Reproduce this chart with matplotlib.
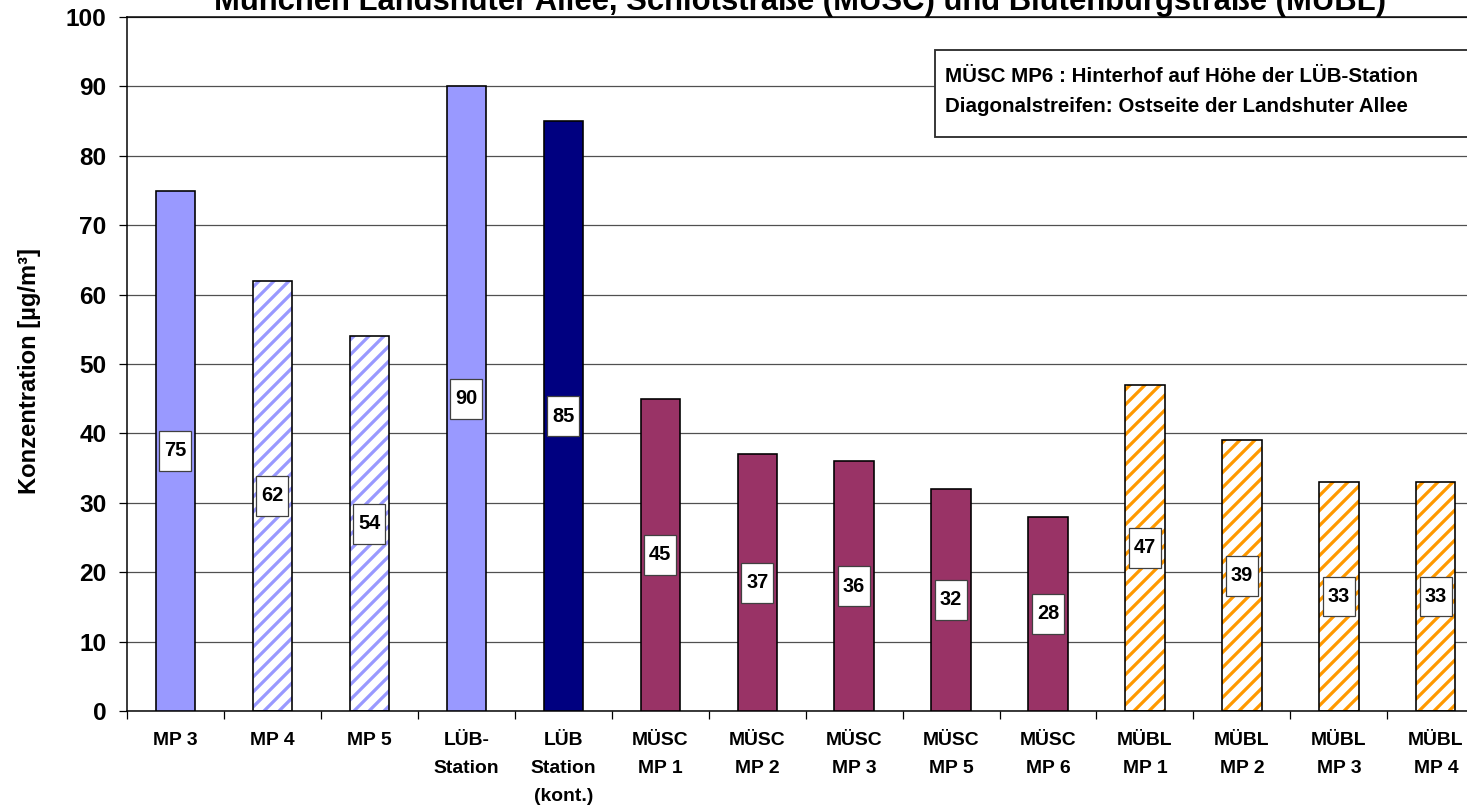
import matplotlib
matplotlib.use("Agg")
import matplotlib.pyplot as plt
from matplotlib.patches import Rectangle

plt.rcParams['font.family'] = ['Liberation Sans', 'DejaVu Sans']
plt.rcParams['font.weight'] = 'bold'
plt.rcParams['hatch.linewidth'] = 2.6

# Messstellen und Mittelwerte
categories = ["MP 3", "MP 4", "MP 5", "LÜB-\nStation", "LÜB\nStation\n(kont.)",
              "MÜSC\nMP 1", "MÜSC\nMP 2", "MÜSC\nMP 3", "MÜSC\nMP 5", "MÜSC\nMP 6",
              "MÜBL\nMP 1", "MÜBL\nMP 2", "MÜBL\nMP 3", "MÜBL\nMP 4"]
values = [75, 62, 54, 90, 85, 45, 37, 36, 32, 28, 47, 39, 33, 33]
bar_colors = ["#9999FF", "#9999FF", "#9999FF", "#9999FF", "#000080",
              "#993366", "#993366", "#993366", "#993366", "#993366",
              "#FF9900", "#FF9900", "#FF9900", "#FF9900"]
# Diagonalstreifen = Ostseite der Landshuter Allee
east_side = [False, True, True, False, False,
             False, False, False, False, False,
             True, True, True, True]

title = "München Landshuter Allee, Schlotstraße (MÜSC) und Blutenburgstraße (MÜBL)"
ylabel = "Konzentration [µg/m³]"
note_lines = ["MÜSC MP6 : Hinterhof auf Höhe der LÜB-Station",
              "Diagonalstreifen: Ostseite der Landshuter Allee"]

DPI = 90
fig = plt.figure(figsize=(1467 / DPI, 805 / DPI), dpi=DPI)
ax = fig.add_axes([127 / 1467, 94 / 805, 1357.3 / 1467, 694 / 805])

x = list(range(len(values)))
bar_w = 0.405
for xi, v, c, striped in zip(x, values, bar_colors, east_side):
    if striped:
        ax.bar(xi, v, width=bar_w, color="white", edgecolor=c, hatch="//",
               linewidth=0, zorder=2)
        ax.bar(xi, v, width=bar_w, fill=False, edgecolor="black",
               linewidth=1.3, zorder=3)
    else:
        ax.bar(xi, v, width=bar_w, color=c, edgecolor="black",
               linewidth=1.3, zorder=3)

# Wertebeschriftung in der Balkenmitte
box_w, box_h = 0.33, 5.76
for xi, v in zip(x, values):
    ax.add_patch(Rectangle((xi - box_w / 2, v / 2 - box_h / 2), box_w, box_h,
                           facecolor="white", edgecolor="#404040",
                           linewidth=1.0, zorder=4))
    ax.text(xi, v / 2, f"{v:d}", ha="center", va="center",
            fontsize=16, fontweight="bold", zorder=5)

ax.set_xlim(-0.5, len(values) - 0.5)
ax.set_ylim(0, 100)
ax.set_yticks(range(0, 101, 10))
ax.yaxis.grid(True, color="#505050", linewidth=1.0)
ax.set_axisbelow(True)

ax.set_xticks(x)
ax.set_xticklabels(categories, fontsize=15.5, fontweight="bold", linespacing=1.85)
ax.set_xticks([i + 0.5 for i in range(-1, len(values))], minor=True)
ax.tick_params(axis="x", which="major", length=0, pad=17.0)
ax.tick_params(axis="x", which="minor", length=6, width=1, direction="out")
ax.tick_params(axis="y", labelsize=19.5, length=6.4, width=1, pad=10.0)
for lbl in ax.get_yticklabels():
    lbl.set_fontweight("bold")

ax.set_ylabel(ylabel, fontsize=19, fontweight="bold")
ax.yaxis.set_label_coords(-0.063, 0.49)

for side in ("left", "bottom", "top"):
    ax.spines[side].set_color("black")
    ax.spines[side].set_linewidth(1.2)
ax.spines["right"].set_visible(False)

fig.text(0.545, 1 - 10 / 805, title, ha="center", va="baseline",
         fontsize=24.8, fontweight="bold")

# Hinweisbox oben rechts
fig.add_artist(Rectangle((935 / 1467, 1 - 137 / 805), 0.5, 87 / 805,
                         transform=fig.transFigure, facecolor="white",
                         edgecolor="#303030", linewidth=1.5, zorder=6))
for i, line in enumerate(note_lines):
    fig.text(945 / 1467, 1 - (77 + 30 * i) / 805, line, ha="left", va="center",
             fontsize=16.4, fontweight="bold", zorder=7)

fig.savefig("out.png", dpi=DPI, facecolor="white")
